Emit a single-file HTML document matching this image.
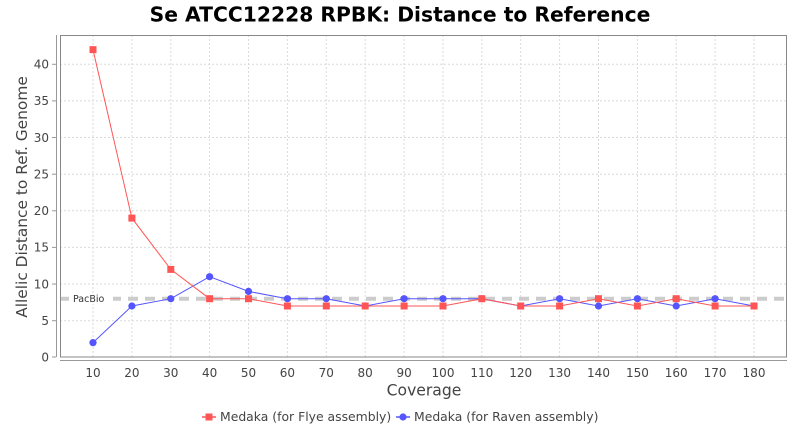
<!DOCTYPE html>
<html>
<head>
<meta charset="utf-8">
<style>
html,body{margin:0;padding:0;background:#fff;}
svg{display:block;}
</style>
</head>
<body>
<svg width="800" height="430" viewBox="0 0 800 430" xmlns="http://www.w3.org/2000/svg" font-family="'DejaVu Sans','Liberation Sans',sans-serif">
<rect x="0" y="0" width="800" height="430" fill="#fff"/>
<text x="400" y="21.5" text-anchor="middle" font-size="20.3" font-weight="bold" fill="#000">Se ATCC12228 RPBK: Distance to Reference</text>

<!-- plot bg -->
<rect x="60.5" y="35.5" width="726" height="321.5" fill="#fff"/>

<!-- grid -->
<g stroke="#dadada" stroke-width="1" stroke-dasharray="2,2" fill="none">
<line x1="60" y1="320.7" x2="787" y2="320.7"/>
<line x1="60" y1="284.05" x2="787" y2="284.05"/>
<line x1="60" y1="247.4" x2="787" y2="247.4"/>
<line x1="60" y1="210.8" x2="787" y2="210.8"/>
<line x1="60" y1="174.2" x2="787" y2="174.2"/>
<line x1="60" y1="137.55" x2="787" y2="137.55"/>
<line x1="60" y1="100.9" x2="787" y2="100.9"/>
<line x1="60" y1="64.3" x2="787" y2="64.3"/>
<line x1="93" y1="35" x2="93" y2="357"/>
<line x1="131.9" y1="35" x2="131.9" y2="357"/>
<line x1="170.8" y1="35" x2="170.8" y2="357"/>
<line x1="209.6" y1="35" x2="209.6" y2="357"/>
<line x1="248.5" y1="35" x2="248.5" y2="357"/>
<line x1="287.4" y1="35" x2="287.4" y2="357"/>
<line x1="326.3" y1="35" x2="326.3" y2="357"/>
<line x1="365.2" y1="35" x2="365.2" y2="357"/>
<line x1="404.1" y1="35" x2="404.1" y2="357"/>
<line x1="443" y1="35" x2="443" y2="357"/>
<line x1="481.8" y1="35" x2="481.8" y2="357"/>
<line x1="520.7" y1="35" x2="520.7" y2="357"/>
<line x1="559.6" y1="35" x2="559.6" y2="357"/>
<line x1="598.5" y1="35" x2="598.5" y2="357"/>
<line x1="637.4" y1="35" x2="637.4" y2="357"/>
<line x1="676.2" y1="35" x2="676.2" y2="357"/>
<line x1="715.1" y1="35" x2="715.1" y2="357"/>
<line x1="754" y1="35" x2="754" y2="357"/>
</g>

<!-- marker line -->
<line x1="60" y1="298.7" x2="787" y2="298.7" stroke="#cccccc" stroke-width="4" stroke-dasharray="10,7"/>
<rect x="69" y="293" width="44" height="11" fill="#fff"/>
<text x="73" y="302" font-size="9.5" fill="#333">PacBio</text>

<!-- series -->
<polyline fill="none" stroke="#5555ff" stroke-width="1" points="93,342.65 131.9,306 170.8,298.7 209.6,276.7 248.5,291.4 287.4,298.7 326.3,298.7 365.2,306 404.1,298.7 443,298.7 481.8,298.7 520.7,306 559.6,298.7 598.5,306 637.4,298.7 676.2,306 715.1,298.7 754,306"/>
<g fill="#5555ff">
<circle cx="93" cy="342.65" r="3.6"/>
<circle cx="131.9" cy="306" r="3.6"/>
<circle cx="170.8" cy="298.7" r="3.6"/>
<circle cx="209.6" cy="276.7" r="3.6"/>
<circle cx="248.5" cy="291.4" r="3.6"/>
<circle cx="287.4" cy="298.7" r="3.6"/>
<circle cx="326.3" cy="298.7" r="3.6"/>
<circle cx="365.2" cy="306" r="3.6"/>
<circle cx="404.1" cy="298.7" r="3.6"/>
<circle cx="443" cy="298.7" r="3.6"/>
<circle cx="481.8" cy="298.7" r="3.6"/>
<circle cx="520.7" cy="306" r="3.6"/>
<circle cx="559.6" cy="298.7" r="3.6"/>
<circle cx="598.5" cy="306" r="3.6"/>
<circle cx="637.4" cy="298.7" r="3.6"/>
<circle cx="676.2" cy="306" r="3.6"/>
<circle cx="715.1" cy="298.7" r="3.6"/>
<circle cx="754" cy="306" r="3.6"/>
</g>
<polyline fill="none" stroke="#ff5555" stroke-width="1" points="93,49.65 131.9,218.1 170.8,269.4 209.6,298.7 248.5,298.7 287.4,306 326.3,306 365.2,306 404.1,306 443,306 481.8,298.7 520.7,306 559.6,306 598.5,298.7 637.4,306 676.2,298.7 715.1,306 754,306"/>
<g fill="#ff5555">
<rect x="89.5" y="46.15" width="7" height="7"/>
<rect x="128.4" y="214.6" width="7" height="7"/>
<rect x="167.3" y="265.9" width="7" height="7"/>
<rect x="206.1" y="295.2" width="7" height="7"/>
<rect x="245" y="295.2" width="7" height="7"/>
<rect x="283.9" y="302.5" width="7" height="7"/>
<rect x="322.8" y="302.5" width="7" height="7"/>
<rect x="361.7" y="302.5" width="7" height="7"/>
<rect x="400.6" y="302.5" width="7" height="7"/>
<rect x="439.5" y="302.5" width="7" height="7"/>
<rect x="478.3" y="295.2" width="7" height="7"/>
<rect x="517.2" y="302.5" width="7" height="7"/>
<rect x="556.1" y="302.5" width="7" height="7"/>
<rect x="595" y="295.2" width="7" height="7"/>
<rect x="633.9" y="302.5" width="7" height="7"/>
<rect x="672.7" y="295.2" width="7" height="7"/>
<rect x="711.6" y="302.5" width="7" height="7"/>
<rect x="750.5" y="302.5" width="7" height="7"/>
</g>

<!-- plot outline -->
<rect x="60.5" y="35.5" width="726" height="321.5" fill="none" stroke="#888" stroke-width="1"/>

<!-- axes -->
<g stroke="#999" stroke-width="1">
<line x1="56.5" y1="35" x2="56.5" y2="357"/>
<line x1="60" y1="360.5" x2="787" y2="360.5"/>
<line x1="52" y1="357" x2="56" y2="357"/>
<line x1="52" y1="320.7" x2="56" y2="320.7"/>
<line x1="52" y1="284.05" x2="56" y2="284.05"/>
<line x1="52" y1="247.4" x2="56" y2="247.4"/>
<line x1="52" y1="210.8" x2="56" y2="210.8"/>
<line x1="52" y1="174.2" x2="56" y2="174.2"/>
<line x1="52" y1="137.55" x2="56" y2="137.55"/>
<line x1="52" y1="100.9" x2="56" y2="100.9"/>
<line x1="52" y1="64.3" x2="56" y2="64.3"/>
</g>

<!-- y tick labels -->
<g font-size="12" fill="#444" text-anchor="end">
<text x="49" y="361.5">0</text>
<text x="49" y="325">5</text>
<text x="49" y="288.3">10</text>
<text x="49" y="251.7">15</text>
<text x="49" y="215">20</text>
<text x="49" y="178.4">25</text>
<text x="49" y="141.8">30</text>
<text x="49" y="105.1">35</text>
<text x="49" y="68.5">40</text>
</g>

<!-- x tick labels -->
<g font-size="12" fill="#444" text-anchor="middle">
<text x="93" y="377">10</text>
<text x="131.9" y="377">20</text>
<text x="170.8" y="377">30</text>
<text x="209.6" y="377">40</text>
<text x="248.5" y="377">50</text>
<text x="287.4" y="377">60</text>
<text x="326.3" y="377">70</text>
<text x="365.2" y="377">80</text>
<text x="404.1" y="377">90</text>
<text x="443" y="377">100</text>
<text x="481.8" y="377">110</text>
<text x="520.7" y="377">120</text>
<text x="559.6" y="377">130</text>
<text x="598.5" y="377">140</text>
<text x="637.4" y="377">150</text>
<text x="676.2" y="377">160</text>
<text x="715.1" y="377">170</text>
<text x="754" y="377">180</text>
</g>

<text x="424" y="395.5" text-anchor="middle" font-size="15.6" fill="#444">Coverage</text>
<text transform="translate(27,197) rotate(-90)" text-anchor="middle" font-size="15.4" fill="#444">Allelic Distance to Ref. Genome</text>

<!-- legend -->
<line x1="202" y1="417" x2="216" y2="417" stroke="#ff5555" stroke-width="1.5"/>
<rect x="205.5" y="413.5" width="7" height="7" fill="#ff5555"/>
<text x="220" y="421" font-size="12.4" fill="#444">Medaka (for Flye assembly)</text>
<line x1="396" y1="417" x2="410" y2="417" stroke="#5555ff" stroke-width="1.5"/>
<circle cx="403" cy="417" r="3.6" fill="#5555ff"/>
<text x="414" y="421" font-size="12.4" fill="#444">Medaka (for Raven assembly)</text>
</svg>
</body>
</html>
